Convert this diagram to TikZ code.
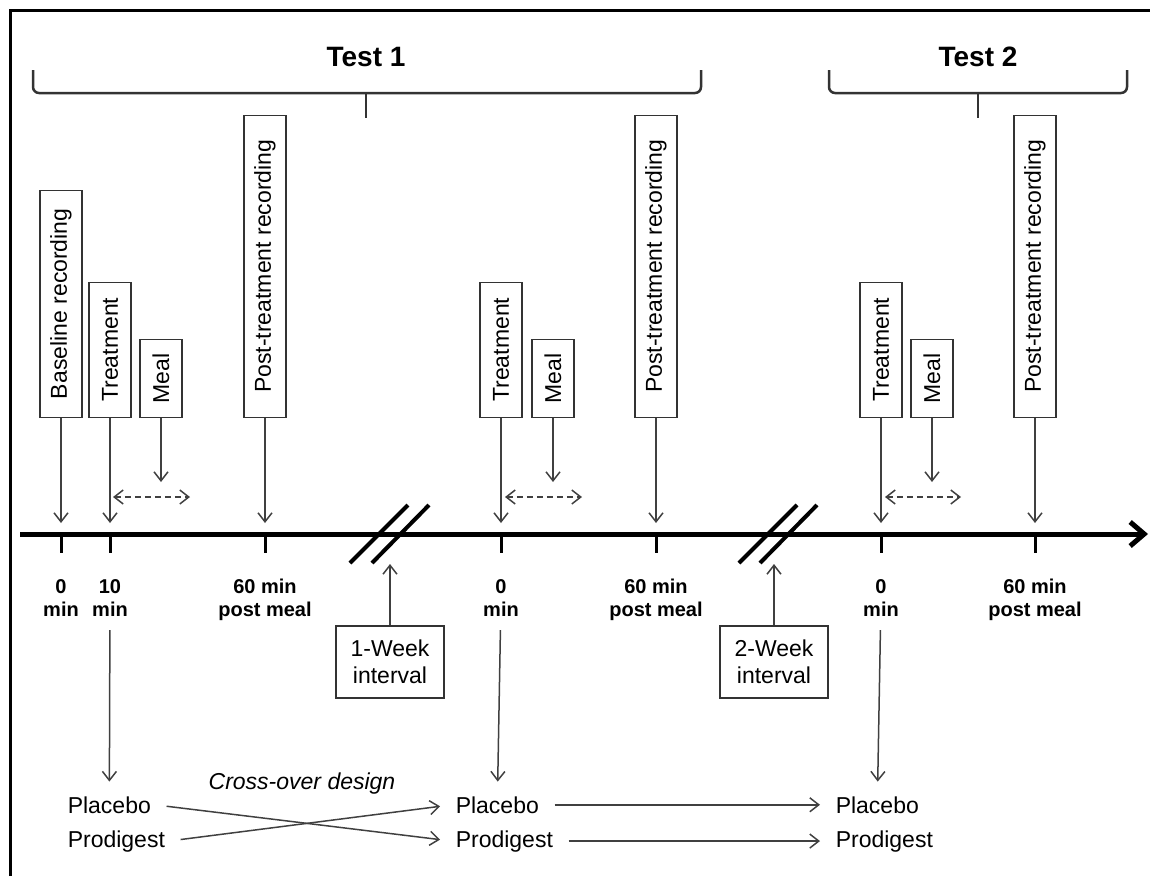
\documentclass[tikz,border=0pt]{standalone}
\usepackage{fontspec}
\setmainfont{Liberation Sans}
\usetikzlibrary{arrows.meta,positioning}

\begin{document}
\begin{tikzpicture}[
		x=1pt, y=-1pt,
		line width=1.5pt,
		vbox/.style={draw=black!80, line width=1.5pt, rotate=90, anchor=west, minimum height=42pt, minimum width=#1, inner sep=0pt, font=\fontsize{23}{27}\selectfont},
		wbox/.style={draw=black!80, line width=1.5pt, minimum width=108pt, minimum height=72pt, align=center, inner sep=0pt, font=\fontsize{23}{27}\selectfont},
		tlabel/.style={anchor=north, align=center, font=\fontsize{20}{23}\selectfont\bfseries},
		drug/.style={anchor=base west, inner sep=3pt, font=\fontsize{23}{27}\selectfont},
		testlabel/.style={font=\fontsize{28}{32}\selectfont\bfseries},
		arrow/.style={draw=black!75, -{Straight Barb[length=9pt,width=14pt]}},
		darrow/.style={draw=black!75, {Straight Barb[length=9pt,width=14pt]}-{Straight Barb[length=9pt,width=14pt]}, dash pattern=on 6pt off 4pt},
		link/.style={arrow, shorten <=12pt, shorten >=12pt},
		timeline/.style={line width=5pt, -{Straight Barb[length=14pt,width=24pt]}},
		tmark/.style={line width=3pt},
		brk/.style={line width=4pt},
		bracket/.style={draw=black!80, line width=2.5pt, rounded corners=6pt},
	]
		\useasboundingbox (0,0) rectangle (1150,876);
		\draw[line width=3pt] (10,876) -- (10,10) -- (1150,10);

		\node (test1) [testlabel] at (366,57) {Test 1};
		\node (test2) [testlabel] at (978,57) {Test 2};
		\coordinate (t1a) at (33,70);
		\coordinate (t1m) at (366,93);
		\coordinate (t1b) at (701,70);
		\coordinate (t2a) at (829,70);
		\coordinate (t2m) at (978,93);
		\coordinate (t2b) at (1127,70);
		\draw[bracket] (t1a) |- (t1m) -| (t1b);
		\draw[bracket] (t1m) -- ++(0,25);
		\draw[bracket] (t2a) |- (t2m) -| (t2b);
		\draw[bracket] (t2m) -- ++(0,25);

		\coordinate (start) at (20,534);
		\coordinate (end) at (1148,534);
		\draw[timeline] (start) -- (end);
		\foreach \n/\x in {a0/61, a10/110, a60/265, b0/501, b60/656, c0/881, c60/1035}
			\coordinate (\n) at (\x,534);
		\foreach \n in {a0,a10,a60,b0,b60,c0,c60}
			\draw[tmark] (\n) -- ++(0,19);

		\node (base) [vbox=227pt] at (61,418) {Baseline recording};
		\node (trt1) [vbox=135pt] at (110,418) {Treatment};
		\node (meal1) [vbox=78pt] at (161,418) {Meal};
		\node (post1) [vbox=302pt] at (265,418) {Post-treatment recording};
		\node (trt2) [vbox=135pt] at (501,418) {Treatment};
		\node (meal2) [vbox=78pt] at (553,418) {Meal};
		\node (post2) [vbox=302pt] at (656,418) {Post-treatment recording};
		\node (trt3) [vbox=135pt] at (881,418) {Treatment};
		\node (meal3) [vbox=78pt] at (932,418) {Meal};
		\node (post3) [vbox=302pt] at (1035,418) {Post-treatment recording};

		\draw[arrow, shorten >=11pt] (base.west) -- (a0);
		\draw[arrow, shorten >=11pt] (trt1.west) -- (a10);
		\draw[arrow, shorten >=11pt] (post1.west) -- (a60);
		\draw[arrow, shorten >=11pt] (trt2.west) -- (b0);
		\draw[arrow, shorten >=11pt] (post2.west) -- (b60);
		\draw[arrow, shorten >=11pt] (trt3.west) -- (c0);
		\draw[arrow, shorten >=11pt] (post3.west) -- (c60);

		\coordinate (md1) at (161,482);
		\coordinate (md2) at (553,482);
		\coordinate (md3) at (932,482);
		\draw[arrow] (meal1.west) -- (md1);
		\draw[arrow] (meal2.west) -- (md2);
		\draw[arrow] (meal3.west) -- (md3);

		\coordinate (d1a) at (113,497);
		\coordinate (d1b) at (190,497);
		\coordinate (d2a) at (505,497);
		\coordinate (d2b) at (582,497);
		\coordinate (d3a) at (885,497);
		\coordinate (d3b) at (961,497);
		\draw[darrow] (d1a) -- (d1b);
		\draw[darrow] (d2a) -- (d2b);
		\draw[darrow] (d3a) -- (d3b);

		\node (la0) [tlabel] at (61,575) {0\\min};
		\node (la10) [tlabel] at (110,575) {10\\min};
		\node (la60) [tlabel] at (265,575) {60 min\\post meal};
		\node (lb0) [tlabel] at (501,575) {0\\min};
		\node (lb60) [tlabel] at (656,575) {60 min\\post meal};
		\node (lc0) [tlabel] at (881,575) {0\\min};
		\node (lc60) [tlabel] at (1035,575) {60 min\\post meal};

		\coordinate (brk1) at (390,534);
		\coordinate (brk2) at (774,534);
		\draw[brk] ([shift={(-40,29)}]brk1) -- ++(58,-58);
		\draw[brk] ([shift={(-18,29)}]brk1) -- ++(57,-58);
		\draw[brk] ([shift={(-35,29)}]brk2) -- ++(58,-58);
		\draw[brk] ([shift={(-14,29)}]brk2) -- ++(57,-58);
		\node (wk1) [wbox] at (390,662) {1-Week\\interval};
		\node (wk2) [wbox] at (774,662) {2-Week\\interval};
		\draw[arrow, shorten >=30pt] (wk1) -- (brk1);
		\draw[arrow, shorten >=30pt] (wk2) -- (brk2);

		\node (pl1) [drug] at (64,813) {Placebo};
		\node (pr1) [drug] at (64,847) {Prodigest};
		\node (pl2) [drug] at (452,813) {Placebo};
		\node (pr2) [drug] at (452,847) {Prodigest};
		\node (pl3) [drug] at (832,813) {Placebo};
		\node (pr3) [drug] at (832,847) {Prodigest};
		\node (cross) [anchor=base, font=\fontsize{23}{27}\selectfont\itshape] at (302,789) {Cross-over design};

		\draw[arrow, shorten <=10pt, shorten >=11pt] (la10) -- (pl1);
		\draw[arrow, shorten <=10pt, shorten >=11pt] (lb0) -- (pl2);
		\draw[arrow, shorten <=10pt, shorten >=11pt] (lc0) -- (pl3);
		\draw[link] (pl1.east) -- (pr2.west);
		\draw[link] (pr1.east) -- (pl2.west);
		\draw[link] (pl2.east) -- (pl3.west);
		\draw[link] (pr2.east) -- (pr3.west);
	\end{tikzpicture}
\end{document}
